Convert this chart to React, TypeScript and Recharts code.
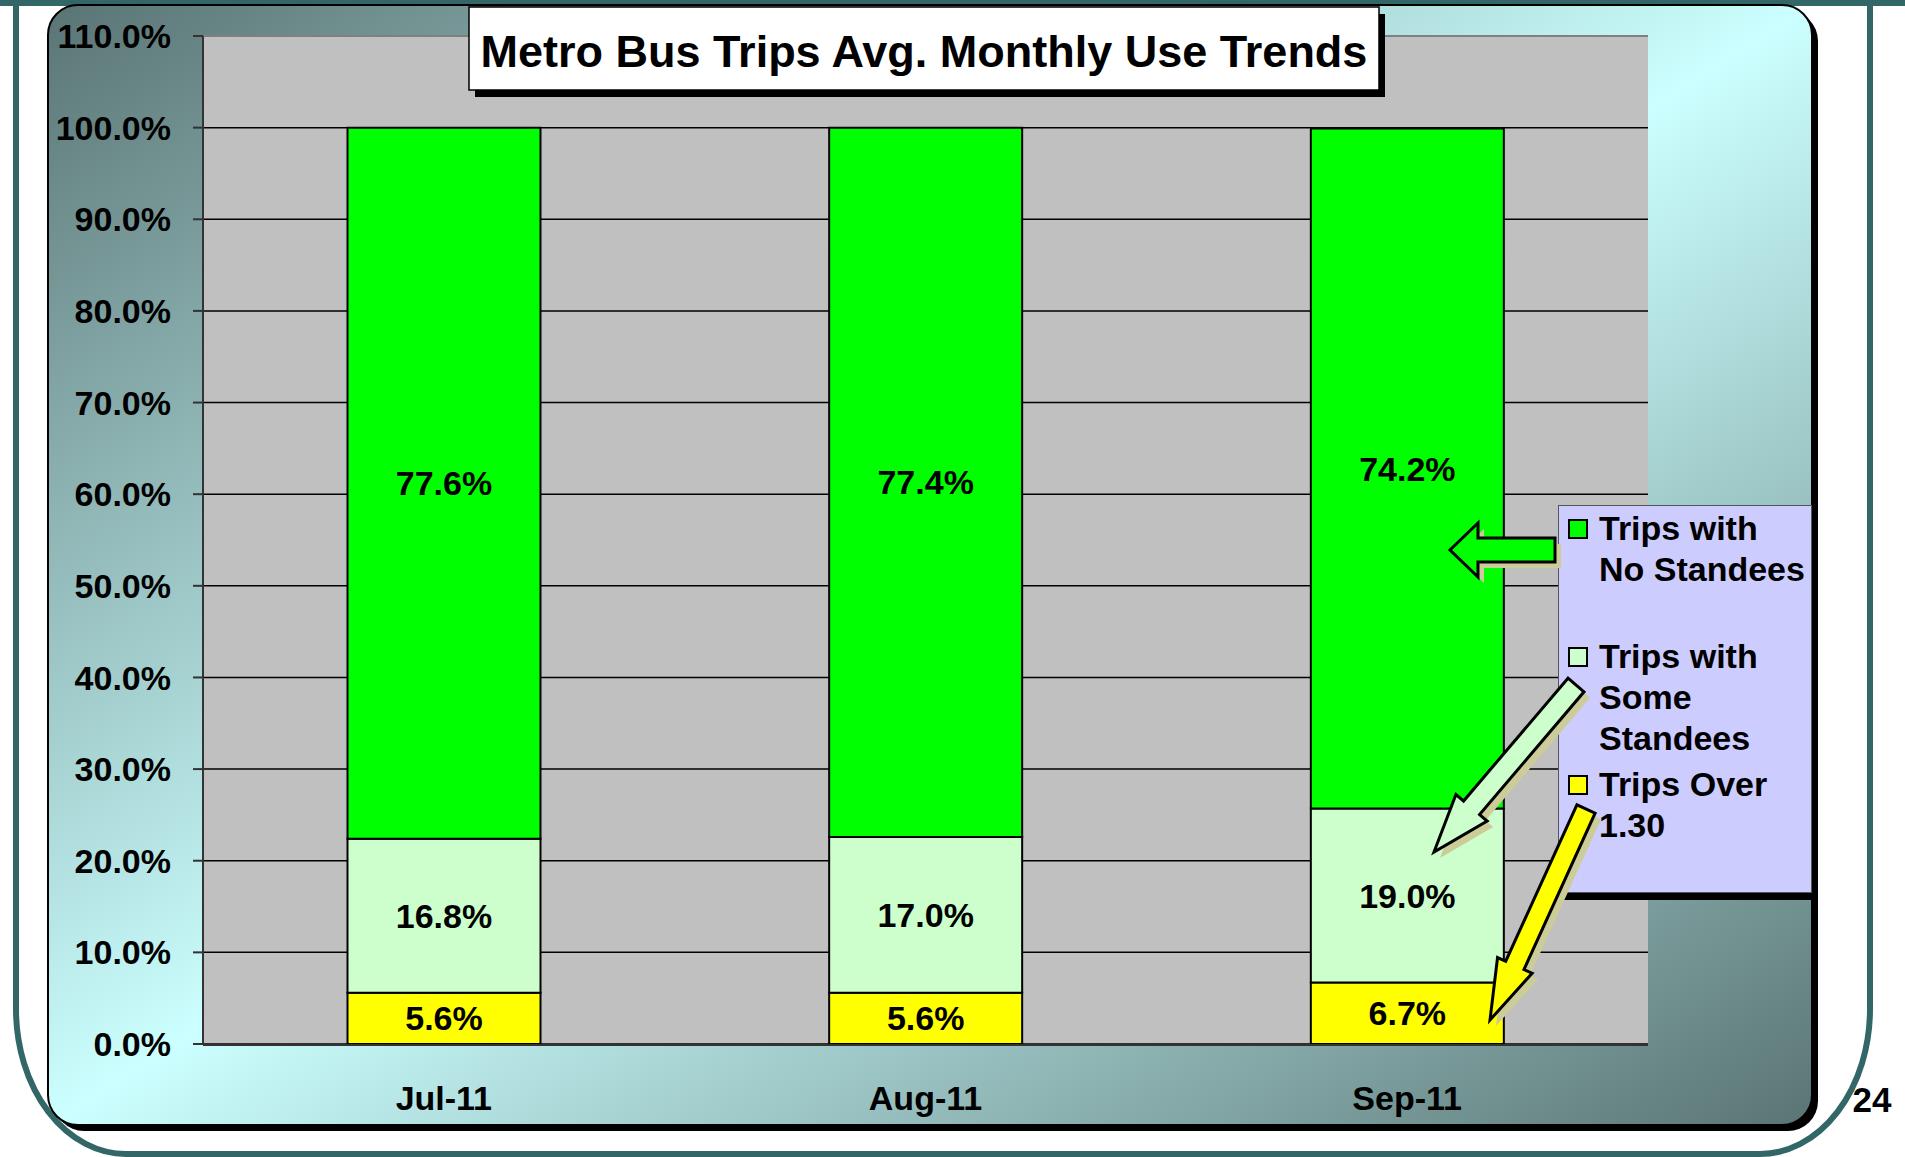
import React from 'react';
import { BarChart, Bar, XAxis, YAxis, CartesianGrid, Legend, LabelList, ReferenceLine } from 'recharts';

// ─── Data ─────────────────────────────────────────────────────────────────────
const months = ['Jul-11', 'Aug-11', 'Sep-11'];
const tripsOver130 = [5.6, 5.6, 6.7];
const tripsSomeStandees = [16.8, 17.0, 19.0];
const tripsNoStandees = [77.6, 77.4, 74.2];
const seriesNames = ['Trips Over 1.30', 'Trips with Some Standees', 'Trips with No Standees'];
const seriesColors = ['#FFFF00', '#CCFFCC', '#00FF00'];
const yTicks = [0, 10, 20, 30, 40, 50, 60, 70, 80, 90, 100, 110];
const edgeTicks = [0, 1, 2, 3];
const chartTitle = 'Metro Bus Trips Avg. Monthly Use Trends';
const slideNumber = '24';

const rows = months.map((month, i) => ({
  month,
  over: tripsOver130[i],
  some: tripsSomeStandees[i],
  none: tripsNoStandees[i],
}));

const FONT = '"Liberation Sans", Arial, Helvetica, sans-serif';
const pct = (v: any) => `${Number(v).toFixed(1)}%`;
const labelStyle = { fill: '#000', fontSize: 34, fontWeight: 'bold', fontFamily: FONT };

// block arrow outline from tail centre to tip
function arrowPoints(tail: number[], tip: number[], shaftHalf: number, headHalf: number, headLen: number) {
  const dx = tip[0] - tail[0];
  const dy = tip[1] - tail[1];
  const len = Math.hypot(dx, dy);
  const ux = dx / len, uy = dy / len;
  const nx = -uy, ny = ux;
  const bx = tip[0] - ux * headLen, by = tip[1] - uy * headLen;
  const pts = [
    [tail[0] + nx * shaftHalf, tail[1] + ny * shaftHalf],
    [bx + nx * shaftHalf, by + ny * shaftHalf],
    [bx + nx * headHalf, by + ny * headHalf],
    tip,
    [bx - nx * headHalf, by - ny * headHalf],
    [bx - nx * shaftHalf, by - ny * shaftHalf],
    [tail[0] - nx * shaftHalf, tail[1] - ny * shaftHalf],
  ];
  return pts.map((p) => p.join(',')).join(' ');
}

function Arrow({ points, fill }: { points: string; fill: string }) {
  return (
    <g>
      <polygon points={points} fill="#CCCC99" transform="translate(6,6)" />
      <polygon points={points} fill={fill} stroke="#000" strokeWidth={3} strokeLinejoin="miter" />
    </g>
  );
}

// ─── Legend box ───────────────────────────────────────────────────────────────
function LegendBox() {
  const items = seriesNames.map((name, i) => ({ name, color: seriesColors[i] })).reverse();
  return (
    <div
      style={{
        width: 254, height: 388, boxSizing: 'border-box', background: '#CCCCFF',
        border: '1px solid #555', boxShadow: '6px 7px 0 #000', paddingTop: 2, fontFamily: FONT,
      }}
    >
      {items.map((e) => (
        <div key={e.name} style={{ position: 'relative', height: 128 }}>
          <div
            style={{
              position: 'absolute', left: 9, top: 11, width: 20, height: 20, boxSizing: 'border-box',
              background: e.color, border: '2px solid #000',
            }}
          />
          <div
            style={{
              position: 'absolute', left: 40, top: 0, width: 210, fontSize: 34, fontWeight: 'bold',
              lineHeight: '41px', color: '#000', textAlign: 'left',
            }}
          >
            {e.name}
          </div>
        </div>
      ))}
    </div>
  );
}

export default function App() {
  return (
    <div style={{ position: 'absolute', left: 0, top: 0, width: 1905, height: 1157, background: '#fff', overflow: 'hidden', fontFamily: FONT }}>
      {/* slide frame + chart panel */}
      <svg width={1905} height={1157} style={{ position: 'absolute', left: 0, top: 0 }}>
        <defs>
          <linearGradient id="panelGrad" x1="0" y1="0" x2="1" y2="1">
            <stop offset="0" stopColor="#5A7474" />
            <stop offset="0.5" stopColor="#CCFFFF" />
            <stop offset="1" stopColor="#5A7474" />
          </linearGradient>
        </defs>
        <rect x={0} y={0} width={1905} height={6} fill="#336666" />
        <path d="M16,0 L16,1010 A110,145 0 0 0 126,1154 L1760,1154 A110,145 0 0 0 1870,1010 L1870,0" fill="none" stroke="#336666" strokeWidth={6} />
        <rect x={54} y={11} width={1764} height={1120} rx={30} fill="#000" />
        <rect x={48} y={5} width={1764} height={1120} rx={30} fill="url(#panelGrad)" stroke="#000" strokeWidth={2} />
      </svg>

      <div style={{ position: 'absolute', left: 0, top: 0 }}>
        <BarChart width={1905} height={1157} data={rows} margin={{ top: 36, right: 257, bottom: 52, left: 0 }} barCategoryGap="30%">
          <CartesianGrid vertical={false} stroke="#000" strokeWidth={1.5} fill="#C0C0C0" fillOpacity={1} />
          <XAxis
            dataKey="month" height={1} interval={0} axisLine={false} tickLine={false} tickSize={10} tickMargin={32}
            tick={labelStyle}
          />
          <XAxis
            xAxisId="edge" type="number" domain={[0, 3]} ticks={edgeTicks} allowDataOverflow height={60}
            tick={false} tickSize={10} axisLine={{ stroke: '#333', strokeWidth: 2 }} tickLine={{ stroke: '#333', strokeWidth: 2 }}
          />
          <YAxis
            domain={[0, 110]} ticks={yTicks} interval={0} allowDataOverflow width={203} tickSize={10} tickMargin={22}
            tickFormatter={pct} tick={labelStyle}
            axisLine={{ stroke: '#333', strokeWidth: 2 }} tickLine={{ stroke: '#333', strokeWidth: 2 }}
          />
          <ReferenceLine y={110} stroke="#808080" strokeWidth={2} />
          <ReferenceLine xAxisId="edge" x={3} stroke="#808080" strokeWidth={2} />
          <Bar dataKey="over" name={seriesNames[0]} stackId="a" fill={seriesColors[0]} stroke="#000" strokeWidth={2} isAnimationActive={false}>
            <LabelList dataKey="over" position="center" formatter={pct} {...labelStyle} />
          </Bar>
          <Bar dataKey="some" name={seriesNames[1]} stackId="a" fill={seriesColors[1]} stroke="#000" strokeWidth={2} isAnimationActive={false}>
            <LabelList dataKey="some" position="center" formatter={pct} {...labelStyle} />
          </Bar>
          <Bar dataKey="none" name={seriesNames[2]} stackId="a" fill={seriesColors[2]} stroke="#000" strokeWidth={2} isAnimationActive={false}>
            <LabelList dataKey="none" position="center" formatter={pct} {...labelStyle} />
          </Bar>
          <Legend
            layout="horizontal" verticalAlign="middle" align="center" content={LegendBox}
            wrapperStyle={{ left: 1558, top: 505, width: 254, height: 388, margin: 0 }}
          />
        </BarChart>
      </div>

      {/* title, callout arrows, slide number */}
      <svg width={1905} height={1157} style={{ position: 'absolute', left: 0, top: 0, pointerEvents: 'none' }}>
        <rect x={475} y={14} width={910} height={83} fill="#000" />
        <rect x={469} y={7} width={910} height={83} fill="#fff" stroke="#000" strokeWidth={1.5} />
        <text x={924} y={67} textAnchor="middle" fontFamily={FONT} fontWeight="bold" fontSize={45} fill="#000">
          {chartTitle}
        </text>
        <Arrow points={arrowPoints([1555, 550], [1450, 550], 12, 27, 28)} fill={seriesColors[2]} />
        <Arrow points={arrowPoints([1576, 685], [1434, 852], 10.5, 20.5, 58)} fill={seriesColors[1]} />
        <Arrow points={arrowPoints([1586, 809], [1490, 1020], 10, 19, 60)} fill={seriesColors[0]} />
        <text x={1872} y={1112} textAnchor="middle" fontFamily={FONT} fontWeight="bold" fontSize={35} fill="#000">
          {slideNumber}
        </text>
      </svg>
    </div>
  );
}
